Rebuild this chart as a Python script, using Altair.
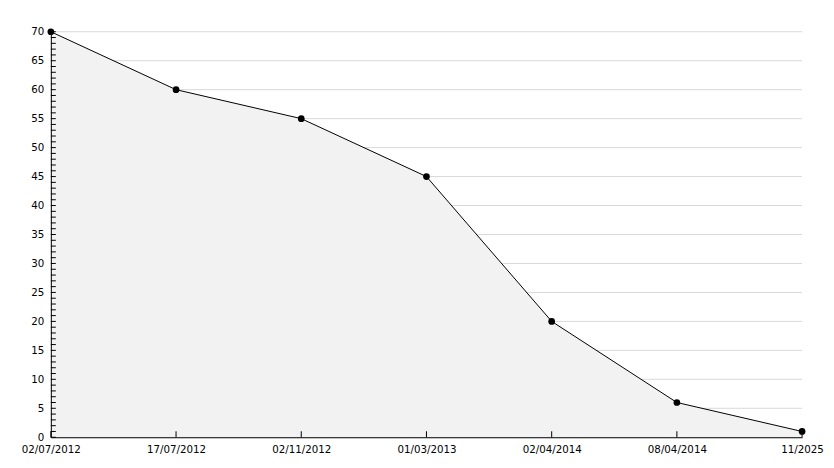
import altair as alt
import pandas as pd

dates = ["02/07/2012", "17/07/2012", "02/11/2012", "01/03/2013",
         "02/04/2014", "08/04/2014", "11/2025"]
values = [70, 60, 55, 45, 20, 6, 1]
major_ticks = list(range(0, 71, 5))
minor_ticks = list(range(0, 71))

df = pd.DataFrame({"date": dates, "value": values})
grid_df = pd.DataFrame({"value": major_ticks})
minor_df = pd.DataFrame({"value": minor_ticks})

W, H = 754, 407
FONT = "DejaVu Sans"

xscale = alt.Scale(type="point", padding=0)
yscale = alt.Scale(domain=[0, 70], nice=False)

xaxis = alt.Axis(title=None, labelAngle=0, tickSize=0, labelPadding=7,
                 domainColor="black", domainWidth=1, grid=False,
                 labelFont=FONT, labelFontSize=10.3, labelColor="black", zindex=1)
yaxis = alt.Axis(title=None, values=major_ticks, tickSize=0, labelPadding=7,
                 domainColor="black", domainWidth=1, grid=False,
                 labelFont=FONT, labelFontSize=10.3, labelColor="black", zindex=1)

xenc = alt.X("date:N", sort=dates, scale=xscale, axis=xaxis)
yenc = alt.Y("value:Q", scale=yscale, axis=yaxis)

grid = alt.Chart(grid_df).mark_rule(color="#d9d9d9", strokeWidth=1).encode(
    y=yenc, x=alt.value(0), x2=alt.value(W))

area = alt.Chart(df).mark_area(color="#f2f2f2", opacity=1).encode(x=xenc, y=yenc)
line = alt.Chart(df).mark_line(color="black", strokeWidth=1).encode(x=xenc, y=yenc)
pts = alt.Chart(df).mark_point(filled=True, color="black", size=45, opacity=1).encode(x=xenc, y=yenc)

yminor = alt.Chart(minor_df).mark_rule(color="black", strokeWidth=1).encode(
    y=yenc, x=alt.value(0), x2=alt.value(5))

xt = alt.Chart(df).mark_rule(color="black", strokeWidth=1).encode(
    x=xenc, y=alt.value(H - 6), y2=alt.value(H))

chart = alt.layer(grid, area, line, yminor, xt, pts).properties(
    width=W, height=H,
    autosize=alt.AutoSizeParams(type="none"),
    padding={"left": 43, "top": 23, "right": 24, "bottom": 24},
    background="white",
).configure_view(stroke=None)

chart.save("out.html", embed_options={"renderer": "svg", "actions": False})
